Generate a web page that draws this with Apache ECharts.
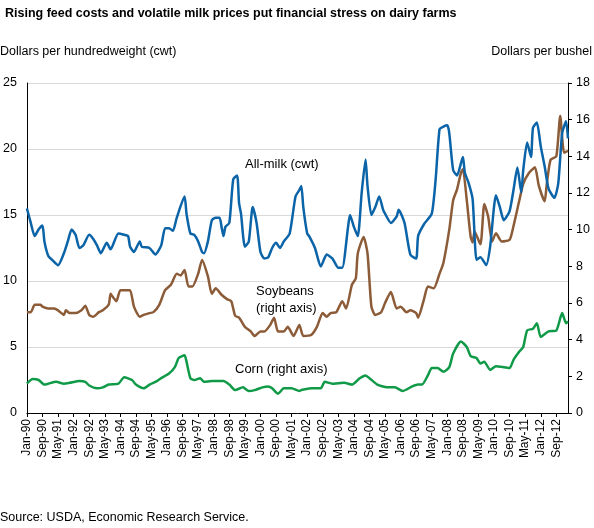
<!DOCTYPE html>
<html>
<head>
<meta charset="utf-8">
<script src="https://cdn.jsdelivr.net/npm/echarts@6/dist/echarts.min.js"></script>
<style>html,body{margin:0;padding:0;background:#fff}#c{width:594px;height:528px}</style>
</head>
<body>
<div id="c"></div>
<script>
// months Jan-90 .. Mar-13
var monthNames = ['Jan','Feb','Mar','Apr','May','Jun','Jul','Aug','Sep','Oct','Nov','Dec'];
var categories = [];
for (var i = 0; i < 279; i++) {
    var y = (90 + Math.floor(i / 12)) % 100;
    categories.push(monthNames[i % 12] + '-' + (y < 10 ? '0' + y : y));
}

// readings: [month index, value]
var milk = [[0,15.5],[2,14.4],[4,13.4],[6,13.9],[8,14.2],[9,13],[11,11.9],[13,11.6],[16,11.2],[19,12.1],[21,13],[23,13.9],[25,13.5],[27,12.5],[29,12.7],[32,13.5],[34,13.2],[36,12.7],[38,12.1],[41,12.9],[43,12.4],[47,13.6],[50,13.5],[52,13.4],[53,12.6],[55,12.2],[58,13],[59,12.6],[63,12.5],[66,12],[69,12.7],[71,14],[73,14],[75,13.8],[77,14.8],[81,16.4],[82,15.1],[84,13.6],[86,13.5],[88,13],[90,12.2],[91,12.1],[93,13],[95,14.6],[97,14.8],[99,14.8],[100,14.1],[101,13.4],[102,14.1],[104,14.4],[106,17.7],[108,18],[109,15.9],[110,15.1],[112,12.6],[114,13],[116,15.6],[118,14.4],[120,12.2],[122,11.7],[124,11.8],[126,12.5],[128,12.9],[130,12.5],[132,13],[135,13.6],[138,16.4],[140,16.9],[141,17.2],[142,15.6],[144,13.6],[145,13.4],[148,12.5],[151,11.1],[154,12],[157,11.7],[160,11],[162,11],[165,14.1],[166,15],[168,14.1],[170,13.4],[172,16.7],[174,19.2],[175,17.2],[177,15],[179,15.6],[181,16.4],[183,15.4],[184,15.1],[187,14.4],[190,14.9],[191,15.4],[194,14.4],[197,12],[200,11.7],[201,13.4],[204,14.3],[208,15.1],[210,17.7],[212,21.5],[214,21.7],[216,21.8],[217,21.2],[219,18.4],[221,18],[224,19.4],[225,18.2],[227,17.4],[229,16.2],[231,11.6],[233,11.8],[236,11.2],[238,12.6],[241,16.5],[243,15.6],[245,14.6],[248,15.3],[250,16.9],[252,18.6],[254,16.7],[255,18.4],[257,20.5],[259,19.4],[260,21.6],[262,22],[264,20.2],[266,18.7],[268,17],[271,16.3],[273,17.4],[275,21.2],[277,22.1],[278,20.8]];

var soybeans = [[0,5.5],[2,5.5],[4,5.9],[7,5.9],[8,5.8],[11,5.7],[14,5.7],[16,5.6],[19,5.35],[20,5.6],[22,5.45],[25,5.45],[28,5.6],[30,5.85],[32,5.35],[34,5.25],[37,5.5],[39,5.6],[42,5.9],[43,6.5],[44,6.35],[46,6.1],[48,6.7],[51,6.7],[53,6.7],[55,5.8],[58,5.25],[60,5.35],[63,5.45],[65,5.5],[68,5.9],[71,6.7],[74,7],[77,7.6],[79,7.5],[81,7.8],[83,6.9],[85,6.9],[88,7.6],[90,8.35],[93,7.45],[95,6.5],[97,6.8],[100,6.45],[103,6.2],[105,6.1],[107,5.3],[109,5.2],[112,4.7],[115,4.45],[117,4.2],[120,4.45],[122,4.45],[125,4.8],[127,5.2],[129,4.45],[132,4.45],[134,4.7],[137,4.2],[140,4.8],[142,4.2],[146,4.25],[149,4.7],[152,5.45],[154,5.25],[156,5.45],[159,5.5],[162,6.1],[164,5.7],[167,7],[169,7.35],[170,8.7],[173,9.6],[175,8.7],[177,5.8],[179,5.35],[182,5.5],[184,6],[187,6.6],[190,5.7],[192,5.8],[195,5.5],[197,5.6],[200,5.45],[201,5.2],[204,6.2],[206,6.9],[209,6.8],[212,7.6],[214,8.2],[217,10],[219,11.6],[221,12.2],[223,13.1],[224,13.3],[226,11.6],[228,9.6],[229,9.3],[230,9.9],[233,9.2],[235,11.4],[237,10.7],[239,9.35],[241,9.8],[244,9.35],[248,9.45],[250,10.2],[253,11.6],[255,12.5],[258,13.1],[261,13.4],[263,12.4],[266,11.55],[267,12.4],[269,13.8],[272,14],[274,16.2],[276,14.2],[278,14.3]];

var corn = [[0,1.6],[3,1.85],[6,1.8],[9,1.55],[11,1.6],[15,1.7],[19,1.6],[22,1.65],[27,1.75],[30,1.7],[32,1.5],[36,1.35],[39,1.4],[42,1.55],[47,1.6],[50,1.95],[54,1.8],[56,1.55],[60,1.35],[63,1.55],[67,1.75],[69,1.9],[73,2.15],[76,2.5],[78,3],[81,3.15],[82,2.8],[84,1.9],[86,1.8],[89,1.9],[91,1.7],[95,1.75],[101,1.75],[104,1.55],[107,1.25],[111,1.4],[114,1.2],[117,1.25],[121,1.4],[124,1.45],[126,1.35],[129,1.05],[132,1.35],[136,1.35],[140,1.2],[141,1.25],[146,1.35],[151,1.35],[153,1.7],[157,1.6],[163,1.65],[167,1.55],[171,1.9],[174,2.05],[176,1.9],[180,1.55],[185,1.4],[189,1.4],[193,1.2],[198,1.45],[201,1.55],[203,1.55],[206,2.05],[208,2.45],[211,2.45],[214,2.25],[217,2.5],[219,3.25],[223,3.9],[226,3.6],[228,3.1],[231,3],[233,2.7],[235,2.8],[238,2.35],[241,2.55],[245,2.5],[248,2.45],[250,2.9],[253,3.35],[255,3.6],[257,4.5],[260,4.6],[262,4.9],[264,4.15],[268,4.45],[272,4.5],[275,5.45],[277,4.9],[278,5]];

var font = 'Liberation Sans, Arial, sans-serif';
var chart = echarts.init(document.getElementById('c'));

function lineSeries(name, data, color, yIdx) {
    return {
        name: name, type: 'line', yAxisIndex: yIdx, data: data,
        showSymbol: false, smooth: 0.2,
        lineStyle: {color: color, width: 2.5}, itemStyle: {color: color}
    };
}

chart.setOption({
    animation: false,
    textStyle: {fontFamily: font},
    grid: {left: 24, right: 26, top: 83, bottom: 115},
    title: {
        text: 'Rising feed costs and volatile milk prices put financial stress on dairy farms',
        left: 0, top: 2,
        textStyle: {fontSize: 12.5, fontWeight: 'bold', color: '#000', fontFamily: font}
    },
    xAxis: {
        type: 'category', data: categories, boundaryGap: false,
        axisLine: {lineStyle: {color: '#000'}},
        axisTick: {interval: 7, length: 4, lineStyle: {color: '#000'}},
        axisLabel: {interval: 7, rotate: 90, color: '#000', fontSize: 12, margin: 6}
    },
    yAxis: [{
        type: 'value', min: 0, max: 25, interval: 5,
        axisLine: {show: true, lineStyle: {color: '#000'}},
        axisTick: {show: false},
        axisLabel: {color: '#000', fontSize: 12.5, margin: 10},
        splitLine: {lineStyle: {color: '#d9d9d9'}}
    }, {
        type: 'value', min: 0, max: 18, interval: 2, position: 'right',
        axisLine: {show: true, lineStyle: {color: '#000'}},
        axisTick: {show: true, length: 4, lineStyle: {color: '#000'}},
        axisLabel: {color: '#000', fontSize: 12.5, margin: 8},
        splitLine: {show: false}
    }],
    graphic: [
        {type: 'text', left: 0, top: 45, style: {text: 'Dollars per hundredweight (cwt)', font: '12.5px ' + font, fill: '#000'}},
        {type: 'text', right: 2, top: 45, style: {text: 'Dollars per bushel', font: '12.5px ' + font, fill: '#000'}},
        {type: 'text', left: 0, top: 511, style: {text: 'Source: USDA, Economic Research Service.', font: '12.5px ' + font, fill: '#000'}},
        {type: 'text', left: 245, top: 158, style: {text: 'All-milk (cwt)', font: '13px ' + font, fill: '#000'}},
        {type: 'text', left: 256, top: 283, style: {text: 'Soybeans\n(right axis)', font: '13px ' + font, fill: '#000', align: 'center', x: 0, lineHeight: 17}},
        {type: 'text', left: 235, top: 363, style: {text: 'Corn (right axis)', font: '13px ' + font, fill: '#000'}}
    ],
    series: [
        lineSeries('Soybeans', soybeans, '#8c5b37', 1),
        lineSeries('Corn', corn, '#109a48', 1),
        lineSeries('All-milk', milk, '#0b63a8', 0)
    ]
});
</script>
</body>
</html>
